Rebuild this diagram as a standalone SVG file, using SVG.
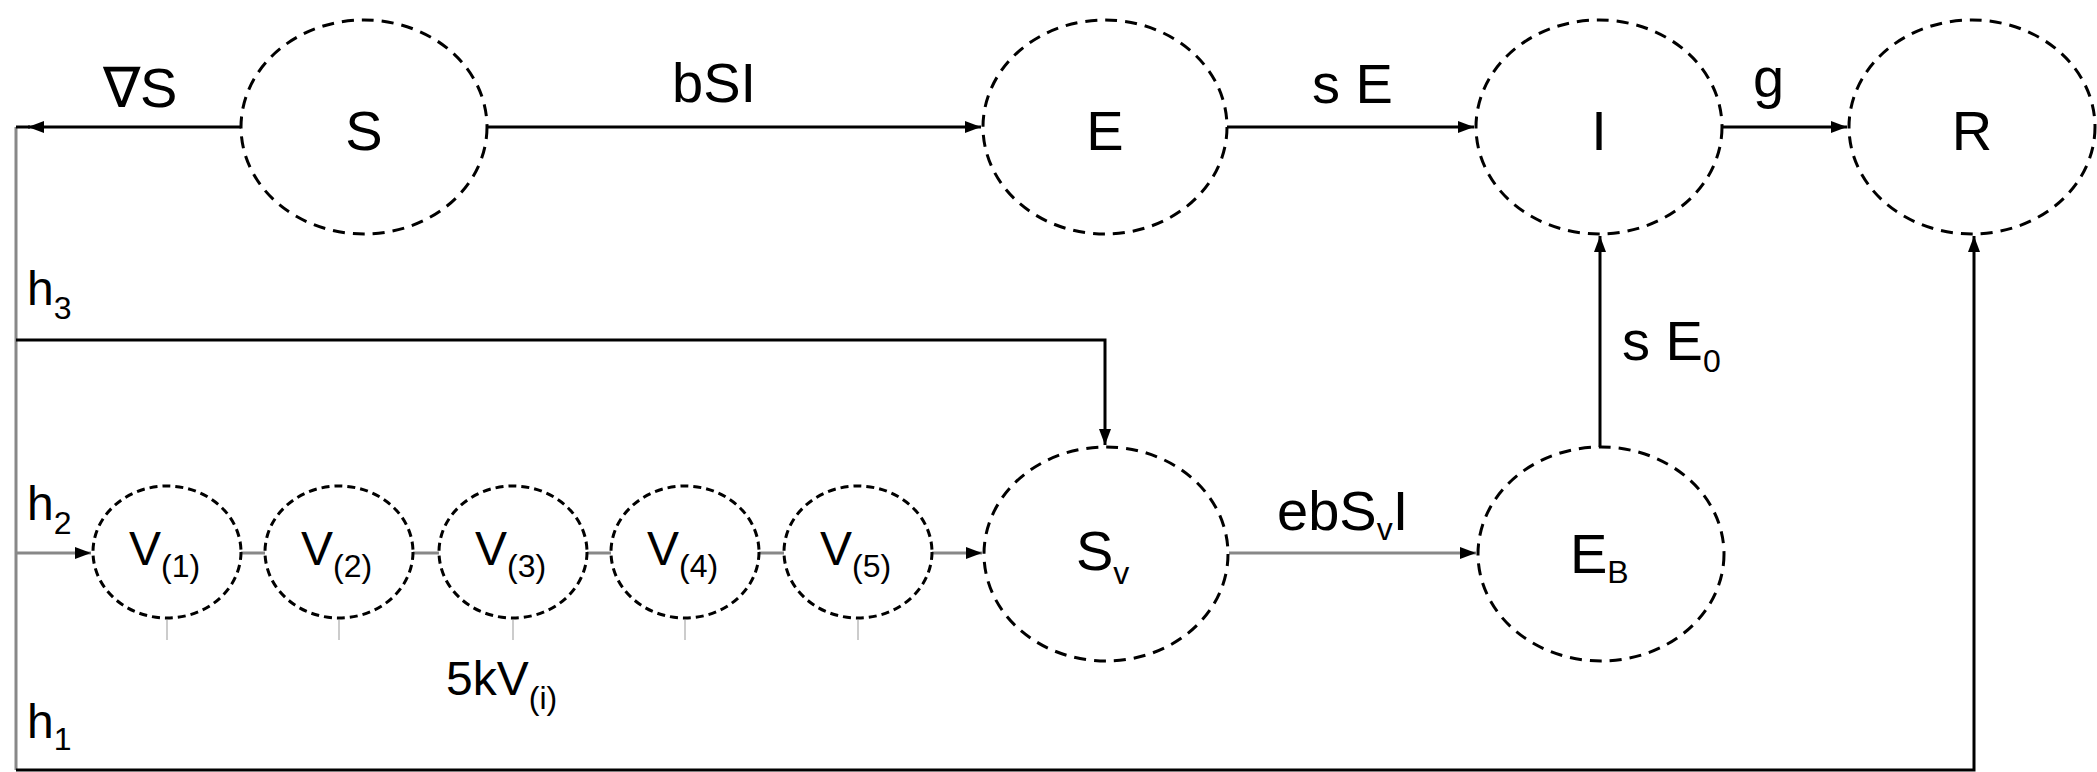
<svg xmlns="http://www.w3.org/2000/svg" width="2097" height="772" viewBox="0 0 2097 772">
<style>
.node{fill:#fff;stroke:#000;stroke-width:3;stroke-dasharray:12 8}
.vnode{fill:#fff;stroke:#000;stroke-width:3;stroke-dasharray:8 5}
.lbl{font-family:"Liberation Sans",Arial,sans-serif;font-size:56px;fill:#000}
.vl{font-family:"Liberation Sans",Arial,sans-serif;font-size:48px;fill:#000}
.sub{font-size:32px}
.edge{font-family:"Liberation Sans",Arial,sans-serif;font-size:56px;fill:#000}
.blk{fill:none;stroke:#000;stroke-width:3}
.gry{fill:none;stroke:#888;stroke-width:3}
.tick{fill:none;stroke:#ccc;stroke-width:2}
</style>
<defs>
<marker id="ah" markerUnits="userSpaceOnUse" markerWidth="16" markerHeight="12" refX="16" refY="6" orient="auto">
<path d="M0,0 L16,6 L0,12 z" fill="#000"/>
</marker>
</defs>
<rect width="2097" height="772" fill="#fff"/>
<g id="connectors">
<path class="gry" d="M16,127 V770"/>
<path class="blk" d="M16,127 H30"/>
<path class="blk" d="M241,127 H28" marker-end="url(#ah)"/>
<path class="blk" d="M487,127 H981" marker-end="url(#ah)"/>
<path class="blk" d="M1227,127 H1474" marker-end="url(#ah)"/>
<path class="blk" d="M1722,127 H1847" marker-end="url(#ah)"/>
<path class="blk" d="M1600,447 V236" marker-end="url(#ah)"/>
<path class="blk" d="M16,770 H1974 V236" marker-end="url(#ah)"/>
<path class="blk" d="M16,340 H1105 V445" marker-end="url(#ah)"/>
<path class="gry" d="M16,553 H91" marker-end="url(#ah)"/>
<path class="gry" d="M241,553 H265 M413,553 H439 M587,553 H611 M759,553 H784"/>
<path class="gry" d="M932,553 H982" marker-end="url(#ah)"/>
<path class="gry" d="M1229,553 H1476" marker-end="url(#ah)"/>
<path class="tick" d="M167,620 V640 M339,620 V640 M513,620 V640 M685,620 V640 M858,620 V640"/>
</g>
<g id="edge-labels">
<text class="edge" x="103" y="107">∇S</text>
<text class="edge" x="672" y="102">bSI</text>
<text class="edge" x="1312" y="103">s E</text>
<text class="edge" x="1753" y="97">g</text>
<text class="edge" x="1622" y="360">s E<tspan class="sub" dy="12">0</tspan></text>
<text class="edge" x="1277" y="530">ebS<tspan class="sub" dy="10">v</tspan><tspan dy="-10">I</tspan></text>
<text class="vl" x="446" y="695">5kV<tspan class="sub" dy="14">(i)</tspan></text>
<text class="vl" x="27" y="305">h<tspan class="sub" dy="14">3</tspan></text>
<text class="vl" x="27" y="520">h<tspan class="sub" dy="14">2</tspan></text>
<text class="vl" x="27" y="738">h<tspan class="sub" dy="12">1</tspan></text>
</g>
<g id="node-S"><ellipse class="node" cx="364" cy="127" rx="123" ry="107"/><text class="lbl" x="364" y="150" text-anchor="middle">S</text></g>
<g id="node-E"><ellipse class="node" cx="1105" cy="127" rx="122" ry="107"/><text class="lbl" x="1105" y="150" text-anchor="middle">E</text></g>
<g id="node-I"><ellipse class="node" cx="1599" cy="127" rx="123" ry="107"/><text class="lbl" x="1599" y="150" text-anchor="middle">I</text></g>
<g id="node-R"><ellipse class="node" cx="1972" cy="127" rx="123" ry="107"/><text class="lbl" x="1972" y="150" text-anchor="middle">R</text></g>
<g id="node-Sv"><ellipse class="node" cx="1106" cy="554" rx="122" ry="107"/><text class="lbl" x="1076" y="570">S<tspan class="sub" dy="14">v</tspan></text></g>
<g id="node-EB"><ellipse class="node" cx="1601" cy="554" rx="123" ry="107"/><text class="lbl" x="1570" y="573">E<tspan class="sub" dy="10">B</tspan></text></g>
<g id="node-V1"><ellipse class="vnode" cx="167" cy="552" rx="74" ry="66"/><text class="vl" x="129" y="565">V<tspan class="sub" dy="12">(1)</tspan></text></g>
<g id="node-V2"><ellipse class="vnode" cx="339" cy="552" rx="74" ry="66"/><text class="vl" x="301" y="565">V<tspan class="sub" dy="12">(2)</tspan></text></g>
<g id="node-V3"><ellipse class="vnode" cx="513" cy="552" rx="74" ry="66"/><text class="vl" x="475" y="565">V<tspan class="sub" dy="12">(3)</tspan></text></g>
<g id="node-V4"><ellipse class="vnode" cx="685" cy="552" rx="74" ry="66"/><text class="vl" x="647" y="565">V<tspan class="sub" dy="12">(4)</tspan></text></g>
<g id="node-V5"><ellipse class="vnode" cx="858" cy="552" rx="74" ry="66"/><text class="vl" x="820" y="565">V<tspan class="sub" dy="12">(5)</tspan></text></g>
</svg>
